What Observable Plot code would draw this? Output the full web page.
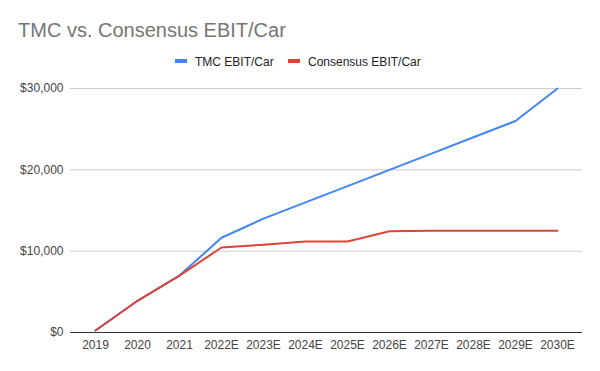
<!DOCTYPE html>
<html>
<head>
<meta charset="utf-8">
<script src="https://cdn.jsdelivr.net/npm/d3@7"></script>
<script src="https://cdn.jsdelivr.net/npm/@observablehq/plot@0.6"></script>
<style>
  body { margin: 0; background: #fff; font-family: "Liberation Sans", Arial, sans-serif; }
  #wrap { position: relative; width: 600px; height: 371px; overflow: hidden; }
  #header { position: relative; width: 600px; height: 75px; }
  #title { position: absolute; left: 18px; top: 20px; font-size: 20px; line-height: 20px; color: #757575; white-space: nowrap; }
  .sw { position: absolute; top: 59px; width: 12px; height: 4px; }
  .lt { position: absolute; top: 56px; font-size: 12px; line-height: 12px; color: #222; white-space: nowrap; }
  #chart svg { display: block; }
</style>
</head>
<body>
<div id="wrap">
  <div id="header">
    <div id="title">TMC vs. Consensus EBIT/Car</div>
    <div class="sw" style="left:175px;background:#4285F4"></div>
    <div class="lt" style="left:195px">TMC EBIT/Car</div>
    <div class="sw" style="left:288px;background:#DB4437"></div>
    <div class="lt" style="left:308px">Consensus EBIT/Car</div>
  </div>
  <div id="chart"></div>
</div>
<script>
const years = ["2019", "2020", "2021", "2022E", "2023E", "2024E", "2025E", "2026E", "2027E", "2028E", "2029E", "2030E"];
const tmcValues = [250, 3900, 7000, 11650, 14000, 16000, 18000, 20000, 22000, 24000, 26000, 30000];
const consensusValues = [250, 3900, 7000, 10450, 10800, 11200, 11200, 12450, 12500, 12500, 12500, 12500];
const gridTicks = [10000, 20000, 30000];
const yTicks = [0, 10000, 20000, 30000];
const seriesNames = ["TMC EBIT/Car", "Consensus EBIT/Car"];
const seriesColors = ["#4285F4", "#DB4437"];

const tmcData = years.map((y, i) => ({ year: y, value: tmcValues[i] }));
const consData = years.map((y, i) => ({ year: y, value: consensusValues[i] }));

const chart = Plot.plot({
  width: 600,
  height: 296,
  marginTop: 13,
  marginBottom: 39,
  marginLeft: 70,
  marginRight: 18,
  style: { fontFamily: "Liberation Sans, Arial, sans-serif", fontSize: "12px", color: "#444", background: "#fff" },
  x: { type: "point", domain: years, padding: 0.5, label: null, tickSize: 0, tickPadding: 8 },
  y: { domain: [0, 30000], ticks: yTicks, tickFormat: d => "$" + d3.format(",")(d), label: null, tickSize: 0, tickPadding: 7 },
  marks: [
    Plot.ruleY(gridTicks, { stroke: "#cccccc", strokeWidth: 1 }),
    Plot.ruleY([0], { stroke: "#333333", strokeWidth: 1 }),
    Plot.lineY(tmcData, { x: "year", y: "value", stroke: seriesColors[0], strokeWidth: 2 }),
    Plot.lineY(consData, { x: "year", y: "value", stroke: seriesColors[1], strokeWidth: 2 })
  ]
});
document.getElementById("chart").appendChild(chart);
</script>
</body>
</html>
